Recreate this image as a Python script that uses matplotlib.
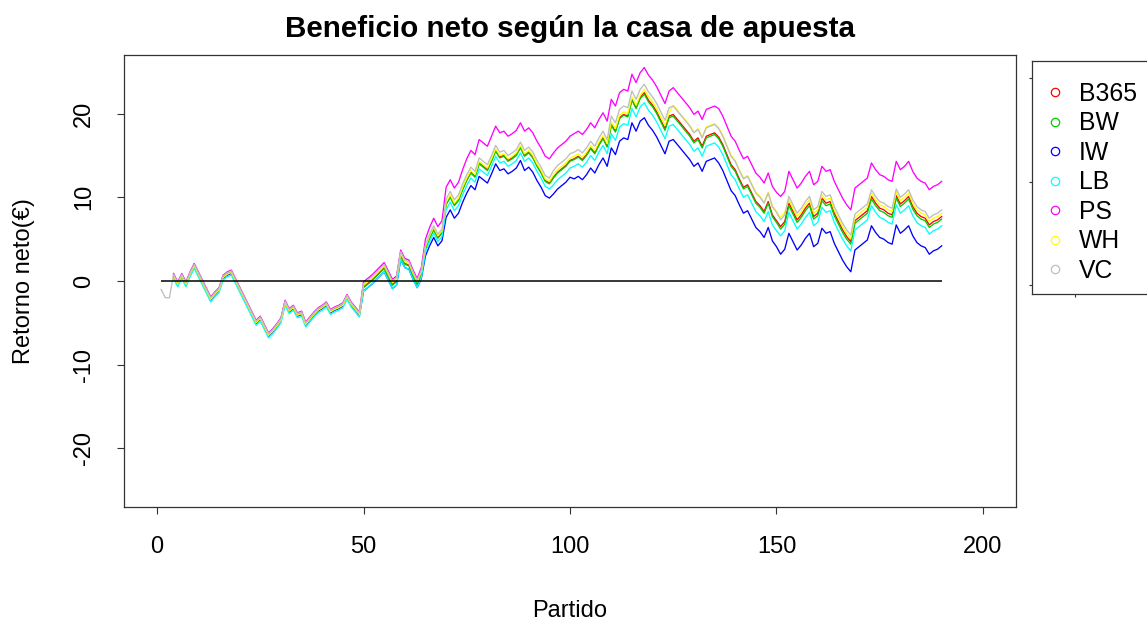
import numpy as np
import matplotlib
matplotlib.use("Agg")
import matplotlib.pyplot as plt
from matplotlib.lines import Line2D

plt.rcParams["font.family"] = ["Liberation Sans", "DejaVu Sans"]

nan = np.nan

# Número de partido (1..190)
partido = list(range(1, 191))

# Beneficio neto acumulado (€) por casa de apuestas
b365 = [nan, nan, nan,
        0.7, -0.3, 0.7, -0.3, 0.9, 1.9, 0.9, -0.1, -1.1, -2.1,
        -1.5, -1.0, 0.5, 0.9, 1.1, 0.1, -0.9, -1.9, -2.9, -3.9,
        -4.9, -4.4, -5.4, -6.4, -5.9, -5.3, -4.6, -2.5, -3.5, -3.1,
        -4.0, -3.8, -5.1, -4.5, -3.9, -3.4, -3.1, -2.7, -3.6, -3.3,
        -3.1, -2.8, -1.8, -2.7, -3.3, -3.9, -0.7, -0.3, 0.1, 0.6,
        1.1, 1.6, 0.6, -0.4, 0.0, 3.1, 2.1, 1.9, 0.7, -0.3,
        0.9, 3.9, 5.2, 6.2, 5.2, 5.8, 9.2, 10.1, 9.1, 9.7,
        11.0, 12.1, 13.0, 12.5, 14.1, 13.7, 13.3, 14.4, 15.6, 14.8,
        15.0, 14.4, 14.7, 15.1, 16.0, 15.0, 15.4, 14.8, 13.8, 13.0,
        12.0, 11.7, 12.4, 13.0, 13.4, 13.8, 14.4, 14.6, 14.9, 14.5,
        15.1, 15.9, 15.3, 16.3, 17.1, 16.1, 18.7, 17.9, 19.5, 19.9,
        19.7, 21.7, 20.7, 21.9, 22.5, 21.6, 21.0, 20.2, 19.2, 18.2,
        19.7, 19.9, 19.3, 18.7, 18.1, 17.5, 16.7, 17.1, 16.1, 17.3,
        17.5, 17.7, 17.2, 16.3, 15.1, 13.9, 13.3, 12.2, 11.2, 11.5,
        10.5, 9.5, 9.0, 8.3, 9.5, 7.9, 7.2, 6.5, 7.1, 9.3,
        8.3, 7.3, 7.9, 8.7, 9.3, 7.7, 8.1, 9.9, 9.3, 9.5,
        8.1, 7.1, 6.1, 5.3, 4.7, 7.2, 7.6, 8.0, 8.4, 10.1,
        9.3, 8.7, 8.5, 8.1, 7.9, 10.2, 9.2, 9.6, 10.1, 8.9,
        8.1, 7.7, 7.5, 6.7, 7.1, 7.3, 7.7]

bw = [nan, nan, nan,
      0.7, -0.3, 0.7, -0.3, 0.9, 1.9, 0.9, -0.1, -1.1, -2.1,
      -1.5, -1.0, 0.5, 0.9, 1.1, 0.1, -0.9, -1.9, -2.9, -3.9,
      -4.9, -4.4, -5.4, -6.4, -5.9, -5.3, -4.6, -2.5, -3.5, -3.1,
      -4.0, -3.8, -5.1, -4.5, -3.9, -3.4, -3.1, -2.7, -3.6, -3.3,
      -3.1, -2.8, -1.8, -2.7, -3.3, -3.9, -0.8, -0.4, 0.0, 0.5,
      1.0, 1.5, 0.5, -0.5, -0.1, 3.0, 2.0, 1.8, 0.6, -0.4,
      0.8, 3.8, 5.1, 6.1, 5.1, 5.7, 9.1, 10.0, 9.0, 9.6,
      10.9, 12.0, 12.9, 12.4, 14.0, 13.6, 13.2, 14.3, 15.5, 14.7,
      14.9, 14.3, 14.6, 15.0, 15.9, 14.9, 15.3, 14.7, 13.7, 12.9,
      11.9, 11.6, 12.3, 12.9, 13.3, 13.7, 14.3, 14.5, 14.8, 14.4,
      15.0, 15.8, 15.2, 16.2, 17.0, 16.0, 18.6, 17.8, 19.4, 19.8,
      19.6, 21.6, 20.6, 21.8, 22.3, 21.4, 20.8, 20.0, 19.0, 18.0,
      19.5, 19.7, 19.1, 18.5, 17.9, 17.3, 16.5, 16.9, 15.9, 17.1,
      17.3, 17.5, 17.0, 16.1, 14.9, 13.7, 13.1, 12.0, 11.0, 11.3,
      10.3, 9.3, 8.8, 8.1, 9.3, 7.7, 7.0, 6.2, 6.8, 9.0,
      8.0, 7.0, 7.6, 8.4, 9.0, 7.4, 7.8, 9.6, 9.0, 9.2,
      7.8, 6.8, 5.8, 5.0, 4.4, 6.9, 7.3, 7.7, 8.1, 9.8,
      9.0, 8.4, 8.2, 7.8, 7.6, 9.9, 8.9, 9.3, 9.8, 8.6,
      7.8, 7.4, 7.2, 6.4, 6.8, 7.0, 7.4]

iw = [nan, nan, nan,
      0.5, -0.5, 0.5, -0.5, 0.7, 1.7, 0.7, -0.3, -1.3, -2.3,
      -1.7, -1.2, 0.3, 0.7, 0.9, -0.1, -1.1, -2.1, -3.1, -4.1,
      -5.1, -4.6, -5.6, -6.6, -6.1, -5.5, -4.8, -2.7, -3.7, -3.3,
      -4.2, -4.0, -5.3, -4.7, -4.1, -3.6, -3.3, -2.9, -3.8, -3.5,
      -3.3, -3.0, -2.0, -2.9, -3.5, -4.1, -1.2, -0.8, -0.4, 0.1,
      0.6, 1.1, 0.1, -0.9, -0.5, 2.6, 1.6, 1.4, 0.2, -0.8,
      0.3, 3.0, 4.2, 5.2, 4.2, 4.8, 7.6, 8.5, 7.5, 8.1,
      9.4, 10.5, 11.4, 10.9, 12.5, 12.1, 11.7, 12.8, 14.0, 13.2,
      13.4, 12.8, 13.1, 13.5, 14.4, 13.2, 13.6, 13.0, 12.0, 11.2,
      10.2, 9.9, 10.4, 11.0, 11.4, 11.8, 12.4, 12.2, 12.5, 12.1,
      12.7, 13.5, 12.9, 13.9, 14.7, 13.7, 15.9, 15.1, 16.7, 17.1,
      16.9, 18.9, 17.9, 19.1, 19.5, 18.6, 18.0, 17.2, 16.2, 15.2,
      16.7, 16.9, 16.3, 15.7, 15.1, 14.5, 13.7, 14.1, 13.1, 14.3,
      14.5, 14.7, 14.1, 13.2, 12.0, 10.8, 10.2, 9.1, 8.1, 8.4,
      7.4, 6.4, 5.9, 5.2, 6.4, 4.8, 4.1, 3.2, 3.8, 5.7,
      4.7, 3.7, 4.3, 5.1, 5.7, 4.1, 4.5, 6.3, 5.7, 5.9,
      4.5, 3.5, 2.5, 1.7, 1.1, 3.7, 4.1, 4.5, 4.9, 6.6,
      5.8, 5.2, 5.0, 4.6, 4.4, 6.7, 5.7, 6.1, 6.6, 5.4,
      4.6, 4.2, 4.0, 3.2, 3.6, 3.8, 4.2]

lb = [nan, nan, nan,
      0.3, -0.7, 0.3, -0.7, 0.5, 1.5, 0.5, -0.5, -1.5, -2.5,
      -1.9, -1.4, 0.1, 0.5, 0.7, -0.3, -1.3, -2.3, -3.3, -4.3,
      -5.3, -4.8, -5.8, -6.8, -6.3, -5.7, -5.0, -2.9, -3.9, -3.5,
      -4.4, -4.2, -5.5, -4.9, -4.3, -3.8, -3.5, -3.1, -4.0, -3.7,
      -3.5, -3.2, -2.2, -3.1, -3.7, -4.3, -1.2, -0.8, -0.4, 0.1,
      0.6, 1.1, 0.1, -0.9, -0.5, 2.6, 1.6, 1.4, 0.2, -0.8,
      0.4, 3.4, 4.7, 5.7, 4.7, 5.3, 8.5, 9.4, 8.4, 9.0,
      10.3, 11.4, 12.3, 11.8, 13.4, 13.0, 12.6, 13.7, 14.9, 14.1,
      14.3, 13.7, 14.0, 14.4, 15.3, 14.3, 14.7, 14.1, 13.1, 12.3,
      11.3, 11.0, 11.5, 12.1, 12.5, 12.9, 13.5, 13.7, 14.0, 13.6,
      14.2, 15.0, 14.4, 15.4, 16.2, 15.2, 17.6, 16.8, 18.4, 18.8,
      18.6, 20.6, 19.6, 20.8, 21.3, 20.4, 19.8, 19.0, 18.0, 17.0,
      18.5, 18.7, 18.1, 17.5, 16.9, 16.3, 15.5, 15.9, 14.9, 16.1,
      16.3, 16.5, 16.0, 15.1, 13.9, 12.7, 12.1, 11.0, 10.0, 10.3,
      9.3, 8.3, 7.8, 7.1, 8.3, 6.7, 6.0, 5.4, 6.0, 8.2,
      7.2, 6.2, 6.8, 7.6, 8.2, 6.6, 7.0, 8.8, 8.2, 8.4,
      7.0, 6.0, 5.0, 4.2, 3.6, 6.1, 6.5, 6.9, 7.3, 9.0,
      8.2, 7.6, 7.4, 7.0, 6.8, 9.1, 8.1, 8.5, 9.0, 7.8,
      7.0, 6.6, 6.4, 5.6, 6.0, 6.2, 6.6]

ps = [nan, nan, nan,
      0.9, -0.1, 0.9, -0.1, 1.1, 2.1, 1.1, 0.1, -0.9, -1.9,
      -1.3, -0.8, 0.7, 1.1, 1.3, 0.3, -0.7, -1.7, -2.7, -3.7,
      -4.7, -4.2, -5.2, -6.2, -5.7, -5.1, -4.4, -2.3, -3.3, -2.9,
      -3.8, -3.6, -4.9, -4.3, -3.7, -3.2, -2.9, -2.5, -3.4, -3.1,
      -2.9, -2.6, -1.6, -2.5, -3.1, -3.7, -0.1, 0.3, 0.7, 1.2,
      1.7, 2.2, 1.2, 0.2, 0.6, 3.7, 2.7, 2.5, 1.3, 0.3,
      1.6, 5.0, 6.4, 7.5, 6.5, 7.2, 11.2, 12.1, 11.1, 11.8,
      13.3, 14.6, 15.6, 15.1, 16.9, 16.5, 16.1, 17.3, 18.5, 17.7,
      17.9, 17.3, 17.6, 18.0, 18.9, 17.9, 18.3, 17.7, 16.7, 15.9,
      14.9, 14.6, 15.3, 15.9, 16.3, 16.7, 17.3, 17.6, 17.9, 17.5,
      18.1, 18.9, 18.3, 19.3, 20.1, 19.1, 21.7, 20.9, 22.5, 22.9,
      22.7, 24.7, 23.7, 24.9, 25.5, 24.6, 24.0, 23.2, 22.2, 21.2,
      22.7, 23.1, 22.5, 21.9, 21.3, 20.7, 19.9, 20.3, 19.3, 20.5,
      20.7, 20.9, 20.6, 19.7, 18.5, 17.3, 16.7, 15.6, 14.6, 14.9,
      13.9, 12.9, 12.4, 11.7, 12.9, 11.3, 10.6, 10.1, 10.7, 13.1,
      12.1, 11.1, 11.7, 12.5, 13.1, 11.5, 11.9, 13.7, 13.1, 13.3,
      11.9, 10.9, 9.9, 9.1, 8.5, 11.1, 11.5, 11.9, 12.3, 14.1,
      13.3, 12.7, 12.5, 12.1, 11.9, 14.3, 13.3, 13.7, 14.3, 13.1,
      12.3, 11.9, 11.7, 10.9, 11.3, 11.5, 11.9]

wh = [nan, nan, nan,
      0.6, -0.4, 0.6, -0.4, 0.8, 1.8, 0.8, -0.2, -1.2, -2.2,
      -1.6, -1.1, 0.4, 0.8, 1.0, 0.0, -1.0, -2.0, -3.0, -4.0,
      -5.0, -4.5, -5.5, -6.5, -6.0, -5.4, -4.7, -2.6, -3.6, -3.2,
      -4.1, -3.9, -5.2, -4.6, -4.0, -3.5, -3.2, -2.8, -3.7, -3.4,
      -3.2, -2.9, -1.9, -2.8, -3.4, -4.0, -0.5, -0.1, 0.3, 0.8,
      1.3, 1.8, 0.8, -0.2, 0.2, 3.3, 2.3, 2.1, 0.9, -0.1,
      1.1, 4.1, 5.4, 6.4, 5.4, 6.0, 9.4, 10.3, 9.3, 9.9,
      11.2, 12.3, 13.2, 12.7, 14.3, 13.9, 13.5, 14.6, 15.8, 15.0,
      15.2, 14.6, 14.9, 15.3, 16.2, 15.2, 15.6, 15.0, 14.0, 13.2,
      12.2, 11.9, 12.7, 13.3, 13.7, 14.1, 14.7, 14.9, 15.2, 14.8,
      15.4, 16.2, 15.6, 16.6, 17.4, 16.4, 19.0, 18.2, 19.8, 20.2,
      20.0, 22.0, 21.0, 22.2, 22.9, 22.0, 21.4, 20.6, 19.6, 18.6,
      20.1, 21.0, 20.4, 19.8, 19.2, 18.6, 17.8, 18.2, 17.2, 18.4,
      18.6, 18.8, 18.3, 17.4, 16.2, 15.0, 14.4, 13.3, 12.3, 12.6,
      11.6, 10.6, 10.1, 9.4, 10.6, 9.0, 8.3, 7.6, 8.2, 9.7,
      8.7, 7.7, 8.3, 9.1, 9.7, 8.1, 8.5, 10.3, 9.7, 9.9,
      8.5, 7.5, 6.5, 5.7, 5.1, 7.6, 8.0, 8.4, 8.8, 10.5,
      9.7, 9.1, 8.9, 8.5, 8.3, 10.6, 9.6, 10.0, 10.5, 9.3,
      8.5, 8.1, 7.9, 7.1, 7.5, 7.7, 8.1]

vc = [-1.0, -2.0, -2.0,
      0.8, -0.2, 0.8, -0.2, 1.0, 2.0, 1.0, 0.0, -1.0, -2.0,
      -1.4, -0.9, 0.6, 1.0, 1.2, 0.2, -0.8, -1.8, -2.8, -3.8,
      -4.8, -4.3, -5.3, -6.3, -5.8, -5.2, -4.5, -2.4, -3.4, -3.0,
      -3.9, -3.7, -5.0, -4.4, -3.8, -3.3, -3.0, -2.6, -3.5, -3.2,
      -3.0, -2.7, -1.7, -2.6, -3.2, -3.8, -0.3, 0.1, 0.5, 1.0,
      1.5, 2.0, 1.0, 0.0, 0.4, 3.5, 2.5, 2.3, 1.1, 0.1,
      1.3, 4.3, 5.6, 6.6, 5.6, 6.2, 9.8, 10.7, 9.7, 10.3,
      11.6, 12.7, 13.6, 13.1, 14.7, 14.3, 13.9, 15.0, 16.2, 15.4,
      15.6, 15.0, 15.3, 15.7, 16.6, 15.6, 16.0, 15.4, 14.4, 13.6,
      12.6, 12.3, 13.2, 13.8, 14.2, 14.6, 15.2, 15.4, 15.7, 15.3,
      15.9, 16.7, 16.1, 17.1, 17.9, 16.9, 19.7, 18.9, 20.5, 20.9,
      20.7, 22.7, 21.7, 22.9, 23.5, 22.6, 22.0, 21.2, 20.2, 19.2,
      20.7, 20.9, 20.3, 19.7, 19.1, 18.5, 17.7, 18.1, 17.1, 18.3,
      18.5, 18.7, 18.2, 17.3, 16.1, 14.9, 14.3, 13.2, 12.2, 12.5,
      11.5, 10.5, 10.0, 9.3, 10.5, 8.9, 8.2, 7.3, 7.9, 10.1,
      9.1, 8.1, 8.7, 9.5, 10.1, 8.5, 8.9, 10.7, 10.1, 10.3,
      8.9, 7.9, 6.9, 6.1, 5.5, 8.0, 8.4, 8.8, 9.2, 10.9,
      10.1, 9.5, 9.3, 8.9, 8.7, 11.0, 10.0, 10.4, 10.9, 9.7,
      8.9, 8.5, 8.3, 7.5, 7.9, 8.1, 8.5]

casas = ["B365", "BW", "IW", "LB", "PS", "WH", "VC"]
series = [b365, bw, iw, lb, ps, wh, vc]
colores = ["#FF0000", "#00CD00", "#0000FF", "#00FFFF", "#FF00FF", "#FFFF00", "#BEBEBE"]

xticks = [0, 50, 100, 150, 200]
yticks = [-20, -10, 0, 10, 20]

W, H = 1147, 623
fig = plt.figure(figsize=(W / 100, H / 100), dpi=100)
ax = fig.add_axes([124 / W, 1 - 507 / H, (1016 - 124) / W, (507 - 55) / H])

for valores, color in zip(series, colores):
    ax.plot(partido, valores, color=color, lw=0.95, zorder=2)

ax.hlines(0, partido[0], partido[-1], color="black", lw=1.1, zorder=3)

ax.set_xlim(-8, 208)
ax.set_ylim(-27, 27)
ax.set_xticks(xticks)
ax.set_yticks(yticks)
ax.set_yticklabels([str(v) for v in yticks], rotation=90, va="center")
ax.tick_params(direction="out", length=5, width=0.8, labelsize=17, pad=16,
               color="#333333")
for s in ax.spines.values():
    s.set_linewidth(0.9)
    s.set_color("#333333")

ax.set_title("Beneficio neto según la casa de apuesta", fontsize=21.3,
             fontweight="bold", pad=13)
ax.set_xlabel("Partido", fontsize=17)
ax.xaxis.set_label_coords(0.5, -0.205)
ax.set_ylabel("Retorno neto(€)", fontsize=17)
ax.yaxis.set_label_coords(-0.100, 0.5)

# Recuadro de la leyenda (sobresale por la derecha de la figura)
ax2 = fig.add_axes([1032 / W, 1 - 294 / H, (1180 - 1032) / W, (294 - 61) / H])
ax2.set_xlim(1032, 1180)
ax2.set_ylim(294, 61)
ax2.set_xticks([1075])
ax2.set_yticks([78, 182, 285])
ax2.tick_params(direction="out", length=2, width=0.8, labelleft=False,
                labelbottom=False, color="#333333")
ax2.patch.set_alpha(0)
for s in ax2.spines.values():
    s.set_linewidth(0.9)
    s.set_color("#333333")

handles = [Line2D([], [], ls="none", marker="o", ms=6, mfc="none",
                  mec=c, mew=0.9) for c in colores]
fig.legend(handles, casas, loc="upper left",
           bbox_to_anchor=(1043 / W, 1 - 82 / H), frameon=False,
           fontsize=17.8, borderpad=0, borderaxespad=0, handlelength=1.0,
           handletextpad=0.45, labelspacing=0.22)

fig.savefig("out.png", dpi=100)
